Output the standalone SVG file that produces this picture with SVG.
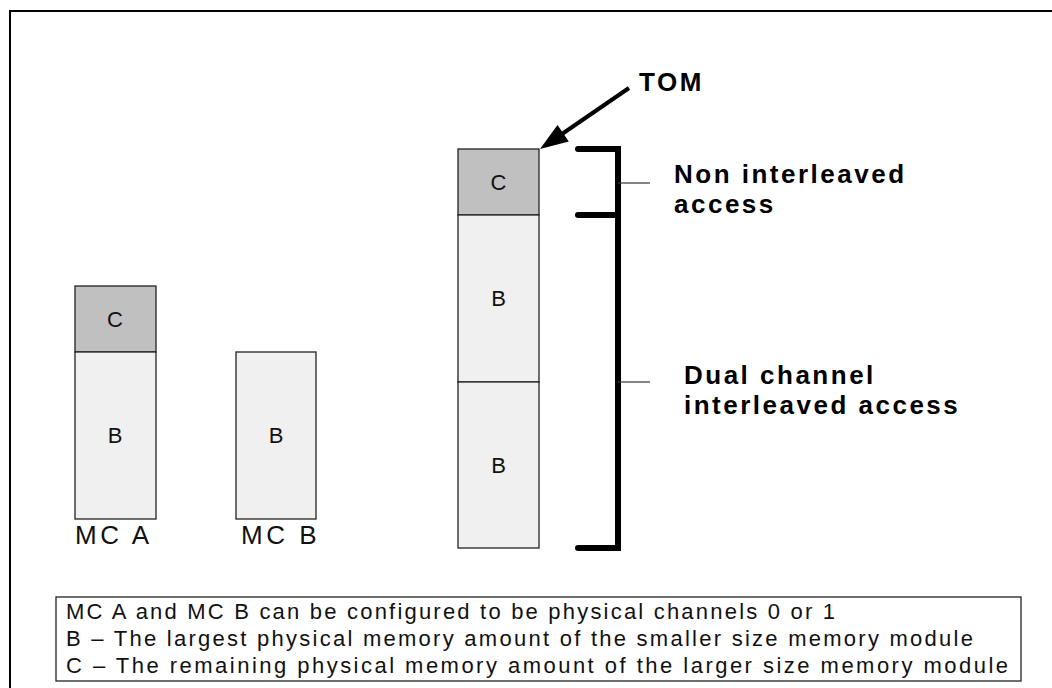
<svg xmlns="http://www.w3.org/2000/svg" width="1052" height="688" viewBox="0 0 1052 688">
<style>
.frame{fill:none;stroke:#000;stroke-width:2}
.cbox{fill:#c0c0c0;stroke:#222;stroke-width:1.3}
.bbox{fill:#f0f0f0;stroke:#222;stroke-width:1.3}
.blabel{font-family:"Liberation Sans",Arial,sans-serif;font-size:22px;fill:#111;text-anchor:middle}
.mclabel{font-family:"Liberation Sans",Arial,sans-serif;font-size:26px;fill:#111;letter-spacing:3.5px}
.bold{font-family:"Liberation Sans",Arial,sans-serif;font-size:26px;font-weight:bold;fill:#000;letter-spacing:2.5px}
.note{font-family:"Liberation Sans",Arial,sans-serif;font-size:22px;fill:#111}
.brk{fill:none;stroke:#000;stroke-width:6;stroke-linecap:round;stroke-linejoin:miter}
.tick{stroke:#333;stroke-width:1.2}
</style>
<rect width="1052" height="688" fill="#fff"/>
<path class="frame" d="M10,688 V11 H1052"/>

<g id="mc-a">
  <rect class="cbox" x="75" y="286" width="81" height="66"/>
  <text class="blabel" x="115" y="327">C</text>
  <rect class="bbox" x="75" y="352" width="81" height="167"/>
  <text class="blabel" x="115" y="443">B</text>
  <text class="mclabel" x="75" y="544">MC A</text>
</g>

<g id="mc-b">
  <rect class="bbox" x="236" y="352" width="80" height="167"/>
  <text class="blabel" x="276" y="443">B</text>
  <text class="mclabel" x="241" y="544">MC B</text>
</g>

<g id="combined">
  <rect class="cbox" x="458" y="149" width="81" height="66"/>
  <text class="blabel" x="498.5" y="190">C</text>
  <rect class="bbox" x="458" y="215" width="81" height="167"/>
  <text class="blabel" x="498.5" y="306">B</text>
  <rect class="bbox" x="458" y="382" width="81" height="166"/>
  <text class="blabel" x="498.5" y="473">B</text>
</g>

<g id="tom">
  <text class="bold" x="639" y="91" letter-spacing="4">TOM</text>
</g>

<g id="non-interleaved">
  <text class="bold" x="674" y="183">Non interleaved</text>
  <text class="bold" x="674" y="213">access</text>
</g>

<g id="dual-channel">
  <text class="bold" x="684" y="384">Dual channel</text>
  <text class="bold" x="684" y="414">interleaved access</text>
</g>

<g id="connectors">
  <line x1="629" y1="88" x2="562" y2="134" stroke="#000" stroke-width="4"/>
  <polygon points="540,149 557.5,124.9 568.8,141.4" fill="#000"/>
  <path class="brk" d="M578,149 H618 V548 H578"/>
  <path class="brk" d="M578,215 H618"/>
  <line class="tick" x1="618" y1="183" x2="650" y2="183"/>
  <line class="tick" x1="618" y1="382" x2="650" y2="382"/>
</g>

<g id="legend">
  <rect x="56" y="597" width="965" height="84" fill="#fff" stroke="#222" stroke-width="1.3"/>
  <text class="note" x="66" y="619" textLength="769" lengthAdjust="spacing">MC A and MC B can be configured to be physical channels 0 or 1</text>
  <text class="note" x="66" y="646" textLength="907" lengthAdjust="spacing">B – The largest physical memory amount of the smaller size memory module</text>
  <text class="note" x="66" y="673" textLength="942" lengthAdjust="spacing">C – The remaining physical memory amount of the larger size memory module</text>
</g>
</svg>
